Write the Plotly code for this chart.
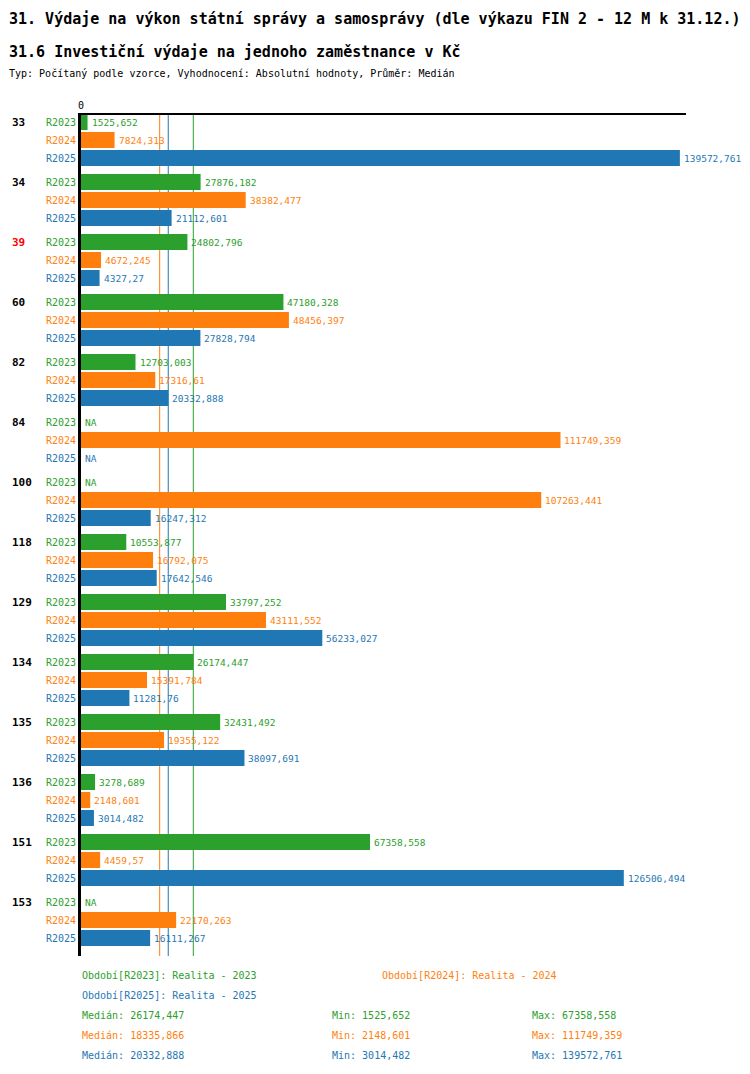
import numpy as np
import plotly.graph_objects as go

# Data
categories = ['33', '34', '39', '60', '82', '84', '100', '118', '129', '134', '135', '136', '151', '153']
highlight = ['39']
periods = ['R2023', 'R2024', 'R2025']
period_names = ['Realita - 2023', 'Realita - 2024', 'Realita - 2025']
r2023 = [1525.652, 27876.182, 24802.796, 47180.328, 12703.003, None, None,
         10553.877, 33797.252, 26174.447, 32431.492, 3278.689, 67358.558, None]
r2024 = [7824.313, 38382.477, 4672.245, 48456.397, 17316.61, 111749.359, 107263.441,
         16792.075, 43111.552, 15391.784, 19355.122, 2148.601, 4459.57, 22170.263]
r2025 = [139572.761, 21112.601, 4327.27, 27828.794, 20332.888, None, 16247.312,
         17642.546, 56233.027, 11281.76, 38097.691, 3014.482, 126506.494, 16111.267]
series = [r2023, r2024, r2025]
colors = ['#2ca02c', '#ff7f0e', '#1f77b4']

# the page body adds an 8px margin, so the figure is drawn smaller and shifted
OFF = 8
W, H = 750 - 2 * OFF, 1074 - 2 * OFF - 3
L, T = 81 - OFF, 115 - OFF
plot_w, plot_h = 605, 841
R = W - L - plot_w
B = H - T - plot_h
FONT = 'DejaVu Sans Mono'


def fmt(v):
    return ('%.3f' % v).rstrip('0').rstrip('.').replace('.', ',')


# page pixel -> paper coords
def px(x):
    return (x - OFF - L) / plot_w


def py(y):
    return (T + plot_h - (y - OFF)) / plot_h


# row positions (one unit = one pixel)
group_step, row_step = 60, 18
fig = go.Figure()
annotations = []

for k, (name, vals, col) in enumerate(zip(periods, series, colors)):
    ys = [g * group_step + k * row_step for g in range(len(categories))]
    fig.add_trace(go.Bar(
        x=[v if v is not None else 0 for v in vals], y=ys, orientation='h',
        width=16, marker=dict(color=col, line=dict(width=0)),
        name=name, hoverinfo='x'))
    for v, y in zip(vals, ys):
        annotations.append(dict(x=v if v is not None else 0, y=y, xref='x', yref='y',
                                text=fmt(v) if v is not None else 'NA', xshift=2,
                                font=dict(family=FONT, size=9.5, color=col)))
        annotations.append(dict(x=0, y=y, xref='x', yref='y', text=name,
                                xanchor='right', xshift=-3,
                                font=dict(family=FONT, size=10, color=col)))
    # median line
    med = float(np.median([v for v in vals if v is not None]))
    fig.add_shape(type='line', x0=med, x1=med, y0=0, y1=1, xref='x', yref='paper',
                  line=dict(color=col, width=1), layer='below')

for g, cat in enumerate(categories):
    annotations.append(dict(x=px(10), y=g * group_step, xref='paper', yref='y',
                            text='<b>%s</b>' % cat,
                            font=dict(family=FONT, size=11,
                                      color='red' if cat in highlight else 'black')))

# titles
annotations += [
    dict(x=px(8), y=py(8), yanchor='top', xshift=-1,
         text='<b>31. Výdaje na výkon státní správy a samosprávy (dle výkazu FIN 2 - 12 M k 31.12.)</b>',
         font=dict(family=FONT, size=15, color='black')),
    dict(x=px(8), y=py(52), xshift=-1,
         text='<b>31.6 Investiční výdaje na jednoho zaměstnance v Kč</b>',
         font=dict(family=FONT, size=15, color='black')),
    dict(x=px(8), y=py(73), xshift=-1,
         text='Typ: Počítaný podle vzorce, Vyhodnocení: Absolutní hodnoty, Průměr: Medián',
         font=dict(family=FONT, size=10, color='black')),
]

# footer legend and stats
legend_pos = [(80, 975), (380, 975), (80, 995)]
for (x, y), name, pname, col in zip(legend_pos, periods, period_names, colors):
    annotations.append(dict(x=px(x), y=py(y), text='Období[%s]: %s' % (name, pname),
                            font=dict(family=FONT, size=10, color=col)))
for k, (vals, col) in enumerate(zip(series, colors)):
    v = [x for x in vals if x is not None]
    y = 1015 + k * 20
    for x, lab, val in [(80, 'Medián', np.median(v)), (330, 'Min', min(v)), (530, 'Max', max(v))]:
        annotations.append(dict(x=px(x), y=py(y), text='%s: %s' % (lab, fmt(val)),
                                font=dict(family=FONT, size=10, color=col)))

for a in annotations:
    a.setdefault('xref', 'paper')
    a.setdefault('yref', 'paper')
    a.setdefault('showarrow', False)
    a.setdefault('xanchor', 'left')
    a.setdefault('yanchor', 'middle')

fig.update_layout(
    width=W, height=H,
    margin=dict(l=L, r=R, t=T, b=B),
    plot_bgcolor='white', paper_bgcolor='white',
    barmode='overlay', showlegend=False,
    annotations=annotations,
    font=dict(family=FONT, size=10, color='black'),
    xaxis=dict(range=[0, 141000], side='top', tickvals=[0], ticktext=['0'],
               showgrid=False, zeroline=False, showline=True, linecolor='black',
               linewidth=1.5, ticks='', tickfont=dict(family=FONT, size=10)),
    yaxis=dict(range=[13 * group_step + 2 * row_step + 18, -7], showticklabels=False,
               showgrid=False, zeroline=False, showline=True, linecolor='black',
               linewidth=2.5, ticks=''),
)

fig.write_html("out.html")
